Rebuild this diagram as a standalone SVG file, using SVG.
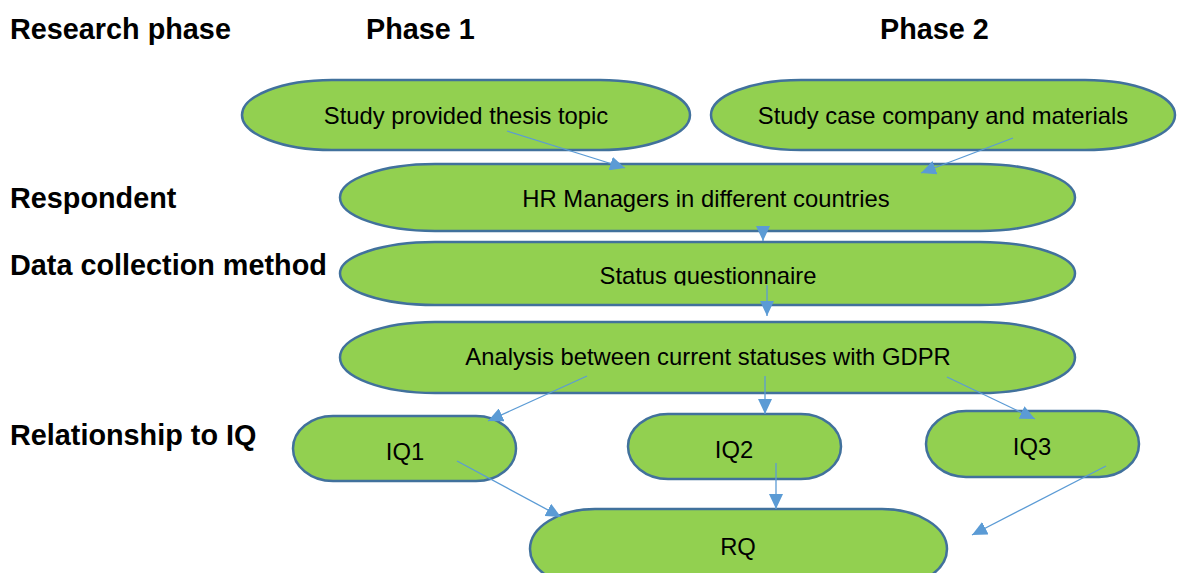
<svg xmlns="http://www.w3.org/2000/svg" width="1181" height="573" viewBox="0 0 1181 573">
<style>
.lbl{font-family:"Liberation Sans",Arial,sans-serif;font-weight:bold;font-size:28.8px;fill:#000}
.node rect{fill:#92D050;stroke:#41719C;stroke-width:2.5}
.node text{font-family:"Liberation Sans",Arial,sans-serif;font-size:23.8px;fill:#000;text-anchor:middle}
.conn line{stroke:#5B9BD5;stroke-width:1.3;marker-end:url(#ah)}
</style>
<defs>
<marker id="ah" markerUnits="userSpaceOnUse" markerWidth="15" markerHeight="14" refX="15" refY="7" orient="auto">
<path d="M0,0 L15,7 L0,14 z" fill="#5B9BD5"/>
</marker>
<clipPath id="clipStatus"><rect x="340" y="240" width="740" height="45.5"/></clipPath>
</defs>
<rect width="1181" height="573" fill="#fff"/>
<g id="labels">
<text class="lbl" x="10" y="39">Research phase</text>
<text class="lbl" x="366" y="39">Phase 1</text>
<text class="lbl" x="880" y="39">Phase 2</text>
<text class="lbl" x="10" y="208">Respondent</text>
<text class="lbl" x="10" y="275">Data collection method</text>
<text class="lbl" x="10" y="445">Relationship to IQ</text>
</g>
<g id="n-thesis" class="node"><rect x="242" y="80" width="448" height="70" rx="90" ry="35"/><text x="466" y="124">Study provided thesis topic</text></g>
<g id="n-case" class="node"><rect x="711" y="80" width="464" height="70" rx="90" ry="35"/><text x="943" y="124">Study case company and materials</text></g>
<g id="n-hr" class="node"><rect x="340" y="164" width="735" height="67" rx="95" ry="33.5"/><text x="706" y="207">HR Managers in different countries</text></g>
<g id="n-status" class="node"><rect x="340" y="242" width="735" height="63" rx="95" ry="31.5"/><text x="708" y="284" clip-path="url(#clipStatus)">Status questionnaire</text></g>
<g id="n-analysis" class="node"><rect x="340" y="322" width="735" height="71" rx="95" ry="35.5"/><text x="708" y="365">Analysis between current statuses with GDPR</text></g>
<g id="n-iq1" class="node"><rect x="293" y="416" width="223" height="65" rx="40" ry="32.5"/><text x="405" y="460">IQ1</text></g>
<g id="n-iq2" class="node"><rect x="628" y="414" width="213" height="65" rx="40" ry="32.5"/><text x="734" y="458">IQ2</text></g>
<g id="n-iq3" class="node"><rect x="926" y="411" width="213" height="66" rx="40" ry="33"/><text x="1032" y="455">IQ3</text></g>
<g id="n-rq" class="node"><rect x="530" y="509" width="417" height="80" rx="65" ry="40"/><text x="738" y="555">RQ</text></g>
<g id="connectors" class="conn">
<line x1="507" y1="131" x2="625" y2="168"/>
<line x1="1013" y1="138" x2="921" y2="173"/>
<line x1="763" y1="226" x2="763" y2="241"/>
<line x1="767" y1="285" x2="767" y2="316"/>
<line x1="587" y1="376" x2="488" y2="421"/>
<line x1="765" y1="376" x2="765" y2="414"/>
<line x1="947" y1="377" x2="1035" y2="419"/>
<line x1="457" y1="461" x2="561" y2="517"/>
<line x1="776" y1="463" x2="776" y2="509"/>
<line x1="1106" y1="466" x2="972" y2="535"/>
</g>
</svg>
